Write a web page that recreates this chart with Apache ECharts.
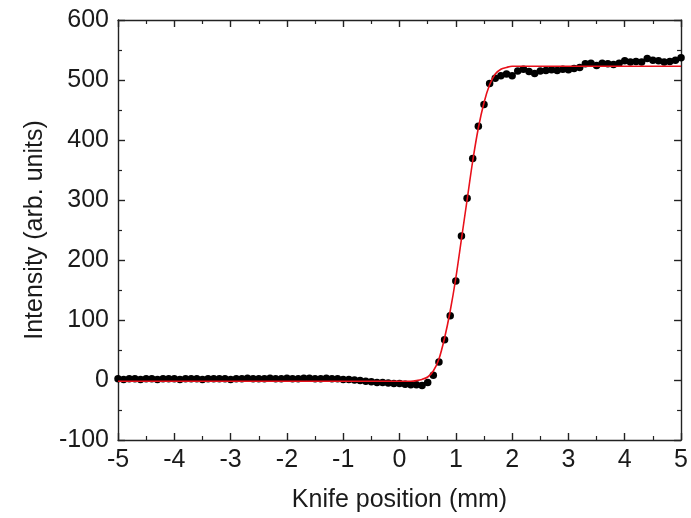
<!DOCTYPE html>
<html><head><meta charset="utf-8">
<script src="https://cdn.jsdelivr.net/npm/echarts@6/dist/echarts.min.js"></script>
<style>html,body{margin:0;padding:0;background:#fff}#c{width:691px;height:518px}</style>
</head><body><div id="c"></div>
<script>
const knifePos = [-5.0,-4.9,-4.8,-4.7,-4.6,-4.5,-4.4,-4.3,-4.2,-4.1,-4.0,-3.9,-3.8,-3.7,-3.6,-3.5,-3.4,-3.3,-3.2,-3.1,-3.0,-2.9,-2.8,-2.7,-2.6,-2.5,-2.4,-2.3,-2.2,-2.1,-2.0,-1.9,-1.8,-1.7,-1.6,-1.5,-1.4,-1.3,-1.2,-1.1,-1.0,-0.9,-0.8,-0.7,-0.6,-0.5,-0.4,-0.3,-0.2,-0.1,0.0,0.1,0.2,0.3,0.4,0.5,0.6,0.7,0.8,0.9,1.0,1.1,1.2,1.3,1.4,1.5,1.6,1.7,1.8,1.9,2.0,2.1,2.2,2.3,2.4,2.5,2.6,2.7,2.8,2.9,3.0,3.1,3.2,3.3,3.4,3.5,3.6,3.7,3.8,3.9,4.0,4.1,4.2,4.3,4.4,4.5,4.6,4.7,4.8,4.9,5.0];
const intensity = [2,1,2,2,1,2,2,1,2,2,2,1,2,2,2,1,2,2,2,2,1,2,2,3,2,2,2,3,2,2,3,2,2,3,3,2,2,3,2,2,1,1,0,-1,-2,-3,-4,-4,-5,-6,-6,-7,-8,-8,-9,-4,8,30,67,107,165,240,303,369,423,459,494,503,507,510,507,515,518,514,511,515,516,517,516,518,517,519,521,527,528,524,528,527,526,528,532,530,531,530,536,533,532,530,531,533,537];
const fitX = [-5.0,-4.0,-3.0,-2.0,-1.0,-0.5,0.0,0.2,0.3,0.4,0.5,0.6,0.7,0.8,0.9,1.0,1.1,1.2,1.3,1.4,1.5,1.6,1.7,1.8,1.9,2.0,2.2,2.5,3.0,4.0,5.0];
const fitY = [-2,-2,-2,-2,-2,-2,-2,-2,-1,1,5,15,35,70,115,170,235,300,365,420,462,492,510,518,521,523,523,523,523,523,523];
const xTicks = [-5,-4,-3,-2,-1,0,1,2,3,4,5];
const yTicks = [-100,0,100,200,300,400,500,600];

const txt = '#1a1a1a';
const font = 'Liberation Sans, Arial, sans-serif';
const fs = 25;
const pts = knifePos.map((x,i)=>[x,intensity[i]]);
const fit = fitX.map((x,i)=>[x,fitY[i]]);
const chart = echarts.init(document.getElementById('c'));
const axLine = {show:true, onZero:false, lineStyle:{color:'#222', width:1.4}};
const tick = {show:true, inside:true, length:7, lineStyle:{color:'#222', width:1.4}};
const minor = {show:true, splitNumber:2, length:4, lineStyle:{color:'#222', width:1.2}};
const baseX = {type:'value', min:xTicks[0], max:xTicks[xTicks.length-1], interval:1,
  axisLine:axLine, splitLine:{show:false}, axisTick:tick, minorTick:minor};
const baseY = {type:'value', min:yTicks[0], max:yTicks[yTicks.length-1], interval:100,
  axisLine:axLine, splitLine:{show:false}, axisTick:tick, minorTick:minor};
chart.setOption({
  animation:false,
  backgroundColor:'#fff',
  grid:{left:118, right:8, top:20, bottom:78},
  xAxis:[
    Object.assign({}, baseX, {position:'bottom', name:'Knife position (mm)', nameLocation:'middle', nameGap:48,
      nameTextStyle:{fontSize:fs, color:txt, fontFamily:font},
      axisLabel:{fontSize:fs, color:txt, fontFamily:font, margin:8}}),
    Object.assign({}, baseX, {position:'top', axisLabel:{show:false}})
  ],
  yAxis:[
    Object.assign({}, baseY, {position:'left', name:'Intensity (arb. units)', nameLocation:'middle', nameGap:68,
      nameTextStyle:{fontSize:fs, color:txt, fontFamily:font},
      axisLabel:{fontSize:fs, color:txt, fontFamily:font, margin:9}}),
    Object.assign({}, baseY, {position:'right', axisLabel:{show:false}})
  ],
  series:[
    {type:'scatter', data:pts, symbol:'circle', symbolSize:7.5, itemStyle:{color:'#000', opacity:1}, z:2},
    {type:'line', data:fit, smooth:0.3, showSymbol:false, lineStyle:{color:'#e8101a', width:1.6}, z:3}
  ]
});
</script></body></html>
